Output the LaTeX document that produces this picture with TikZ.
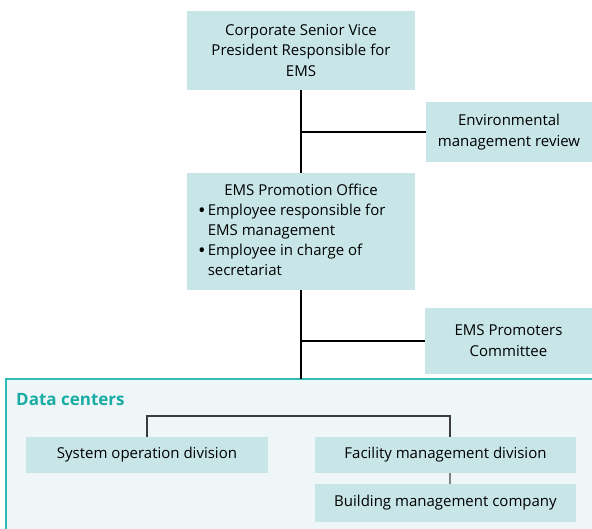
\documentclass[tikz,border=0pt]{standalone}
\usepackage{fontspec}
\setmainfont{Open Sans}
\usetikzlibrary{positioning}
\definecolor{boxfill}{RGB}{200,230,232}
\definecolor{framefill}{RGB}{238,246,247}
\definecolor{frameteal}{RGB}{45,189,182}
\definecolor{titleteal}{RGB}{24,172,165}
\definecolor{linegray}{RGB}{60,60,60}
\newcommand{\orgbullet}{\raisebox{-2pt}{\fontsize{20}{20}\selectfont\textbullet}}

\begin{document}
\begin{tikzpicture}[x=1pt, y=-1pt,
    orgbox/.style={fill=boxfill, inner sep=0pt, align=center,
        font=\fontsize{15}{20.8}\selectfont},
    link/.style={line width=1.1pt, black},
    sublink/.style={line width=1.1pt, linegray}]
    % Page area
    \useasboundingbox (0,0) rectangle (592,528);
    \clip (0,0) rectangle (592,528);

    % Data centers frame
    \draw[frameteal, line width=1.6pt, fill=framefill] (6,379) rectangle (610,545);
    \node[anchor=base west, text=titleteal, inner sep=0pt,
        font=\fontsize{17}{18}\selectfont\bfseries] (dctitle) at (16,405) {Data centers};
    \coordinate (dctop) at (301,379);

    % Management chain
    \node[orgbox, minimum width=228, minimum height=79] (vp) at (301,50.5)
        {Corporate Senior Vice\\President Responsible for\\EMS};
    \node[orgbox, minimum width=166, minimum height=60] (review) at (509,132)
        {Environmental\\management review};
    \node[orgbox, minimum width=228, minimum height=117,
        font=\fontsize{15}{20}\selectfont] (office) at (301,231.5)
        {\begin{tabular}{@{}l@{\hspace{2pt}}p{196pt}@{}}
         \multicolumn{2}{@{}c@{}}{EMS Promotion Office}\\
         \orgbullet & Employee responsible for\\
         & EMS management\\
         \orgbullet & Employee in charge of\\
         & secretariat
         \end{tabular}};
    \node[orgbox, minimum width=167, minimum height=66] (promoters) at (508.5,341)
        {EMS Promoters\\Committee};

    % Divisions
    \node[orgbox, minimum width=242, minimum height=36] (sysop) at (147,455)
        {System operation division};
    \node[orgbox, minimum width=261, minimum height=36] (facility) at (445.5,455)
        {Facility management division};
    \node[orgbox, minimum width=261, minimum height=38] (building) at (445.5,503)
        {Building management company};

    % Connectors
    \draw[link] (vp.south) -- (office.north);
    \draw[link] (review.west) -- (review.west -| vp.south);
    \draw[link] (office.south) -- (dctop);
    \draw[link] (promoters.west) -- (promoters.west -| office.south);
    \coordinate (facjoin) at (450,416);
    \draw[sublink] (sysop.north) |- (facjoin) -- (facjoin |- facility.north);
    \draw[sublink, gray] (facjoin |- facility.south) -- (facjoin |- building.north);
\end{tikzpicture}
\end{document}
